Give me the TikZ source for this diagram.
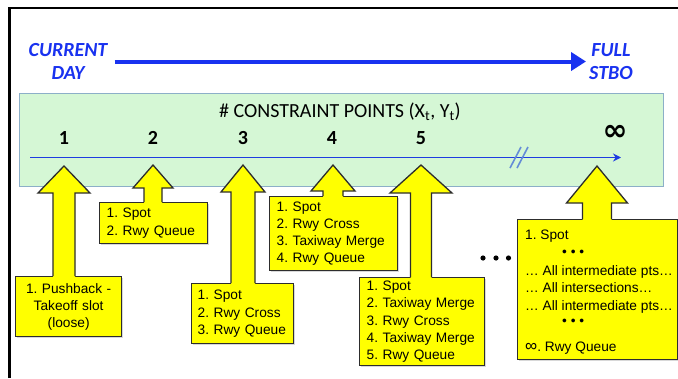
\documentclass[tikz,border=0pt]{standalone}
\usepackage{fontspec}
\setmainfont{Liberation Sans}
\newfontfamily\calfont{Carlito}
\newfontfamily\symfont{DejaVu Sans}
\usetikzlibrary{shadows,arrows.meta}
\definecolor{ttlblue}{RGB}{25,50,240}
\definecolor{lineblue}{RGB}{30,60,225}
\definecolor{breakblue}{RGB}{100,140,215}
\definecolor{panelgreen}{RGB}{213,247,213}
\definecolor{panelborder}{RGB}{140,175,200}
\definecolor{calloutfill}{RGB}{255,255,0}
\definecolor{calloutline}{RGB}{45,45,45}
\newcommand\mycallout[7]{% name, x, tipy, basey, headhalf, shafthalf, boxtop
  \coordinate (#1) at (#2,#3);
  \fill[calloutfill] (#2-#6,#7+1) -- (#2-#6,#4) -- (#2-#5,#4) -- (#1) -- (#2+#5,#4) -- (#2+#6,#4) -- (#2+#6,#7+1) -- cycle;
  \draw[calloutedge] (#2-#6,#7) -- (#2-#6,#4) -- (#2-#5,#4) -- (#1) -- (#2+#5,#4) -- (#2+#6,#4) -- (#2+#6,#7);
}
\begin{document}
\frenchspacing
\begin{tikzpicture}[x=1pt,y=-1pt,
  calloutedge/.style={draw=calloutline,line width=1.3pt,line join=miter},
  cbox/.style={draw=calloutline,fill=calloutfill,line width=1.3pt,anchor=north west,
    inner xsep=6pt,inner ysep=0pt,align=left,
    font=\fontsize{13.7}{17.2}\selectfont,
    drop shadow={shadow xshift=1.2pt,shadow yshift=-1.2pt,opacity=0.3}},
  toptext/.style={text=ttlblue,font=\calfont\bfseries\itshape\fontsize{20}{23}\selectfont,align=center,inner sep=0pt},
  numtext/.style={font=\calfont\bfseries\fontsize{20}{20}\selectfont,inner sep=0pt}]
\useasboundingbox (0,0) rectangle (678,378);
\fill[white] (0,0) rectangle (678,378);
% slide frame
\draw[line width=2.4pt] (9.5,378) -- (9.5,8) -- (678,8);
% top arrow
\node[toptext] (cur) at (68,61.5) {CURRENT\\DAY};
\node[toptext] (full) at (611,61.5) {FULL\\STBO};
\draw[ttlblue,line width=4pt,-{Triangle[length=15pt,width=18pt]},shorten <=7pt,shorten >=3pt] (cur.east) -- (full.west);
% panel
\node[draw=panelborder,fill=panelgreen,line width=0.8pt,anchor=north west,minimum width=644pt,minimum height=93pt,inner sep=0pt,
  drop shadow={shadow xshift=1pt,shadow yshift=-1pt,opacity=0.2}] (panel) at (19,93) {};
\node[font=\calfont\fontsize{20}{20}\selectfont,inner sep=0pt] (title) at (340,112) {\# CONSTRAINT POINTS (X\textsubscript{t}, Y\textsubscript{t})};
\node[numtext] (n1) at (64,138) {1};
\node[numtext] (n2) at (153,138) {2};
\node[numtext] (n3) at (243,138) {3};
\node[numtext] (n4) at (332,138) {4};
\node[numtext] (n5) at (421,138) {5};
\node[font=\symfont\bfseries\fontsize{30}{30}\selectfont,inner sep=0pt] (ninf) at (615,133) {∞};
\coordinate (lstart) at (30,157.5);
\coordinate (lend) at (621,157.5);
\draw[lineblue,line width=1.8pt,-{Stealth[length=8pt,width=8pt]}] (lstart) -- (lend);
\coordinate (brk1a) at (510,168); \coordinate (brk1b) at (521,147);
\coordinate (brk2a) at (517,168); \coordinate (brk2b) at (528,147);
\draw[breakblue,line width=1.6pt] (brk1a) -- (brk1b) (brk2a) -- (brk2b);
% boxes
\node[cbox,text width=94pt,align=center,minimum height=60pt] (b1) at (15,276) {1. Pushback -\\Takeoff slot\\(loose)};
\node[cbox,minimum height=41pt,inner xsep=7pt,text width=94pt] (b2) at (99,202) {1. Spot\\2. Rwy Queue};
\node[cbox,text width=90pt,minimum height=60pt] (b3) at (191,283) {1. Spot\\2. Rwy Cross\\3. Rwy Queue};
\node[cbox,text width=114pt,minimum height=74pt,inner xsep=7pt] (b4) at (269,196) {1. Spot\\2. Rwy Cross\\3. Taxiway Merge\\4. Rwy Queue};
\node[cbox,text width=111pt,minimum height=88pt,inner xsep=7pt] (b5) at (359,277) {1. Spot\\2. Taxiway Merge\\3. Rwy Cross\\4. Taxiway Merge\\5. Rwy Queue};
\node[cbox,minimum width=160pt,minimum height=140pt,inner sep=0pt] (binf) at (517,219) {};
\node[anchor=north west,align=left,inner sep=0pt,font=\fontsize{13.7}{17.2}\selectfont] (binftext) at (525,229.5)
  {1. Spot\\
   \hspace*{37pt}• • •\\[2pt]
   … All intermediate pts…\\
   … All intersections…\\
   … All intermediate pts…\\[-1.5pt]
   \hspace*{37pt}• • •\\[8.5pt]
   {\fontsize{17}{17.2}\selectfont ∞}. Rwy Queue};
% callout arrows
\mycallout{t1}{64}{166}{193}{26}{11}{276}
\mycallout{t2}{153}{165}{188}{20}{9}{202}
\mycallout{t3}{243}{165}{192}{22}{12}{283}
\mycallout{t4}{333}{165}{191}{22}{10}{196}
\mycallout{t5}{421}{165}{193}{31}{10.5}{277}
\mycallout{t6}{597}{166}{203}{30.5}{14.5}{219}
% ellipsis dots
\fill (483,258) circle (2.6pt) (496,258) circle (2.6pt) (508.5,258) circle (2.6pt);
\end{tikzpicture}
\end{document}
